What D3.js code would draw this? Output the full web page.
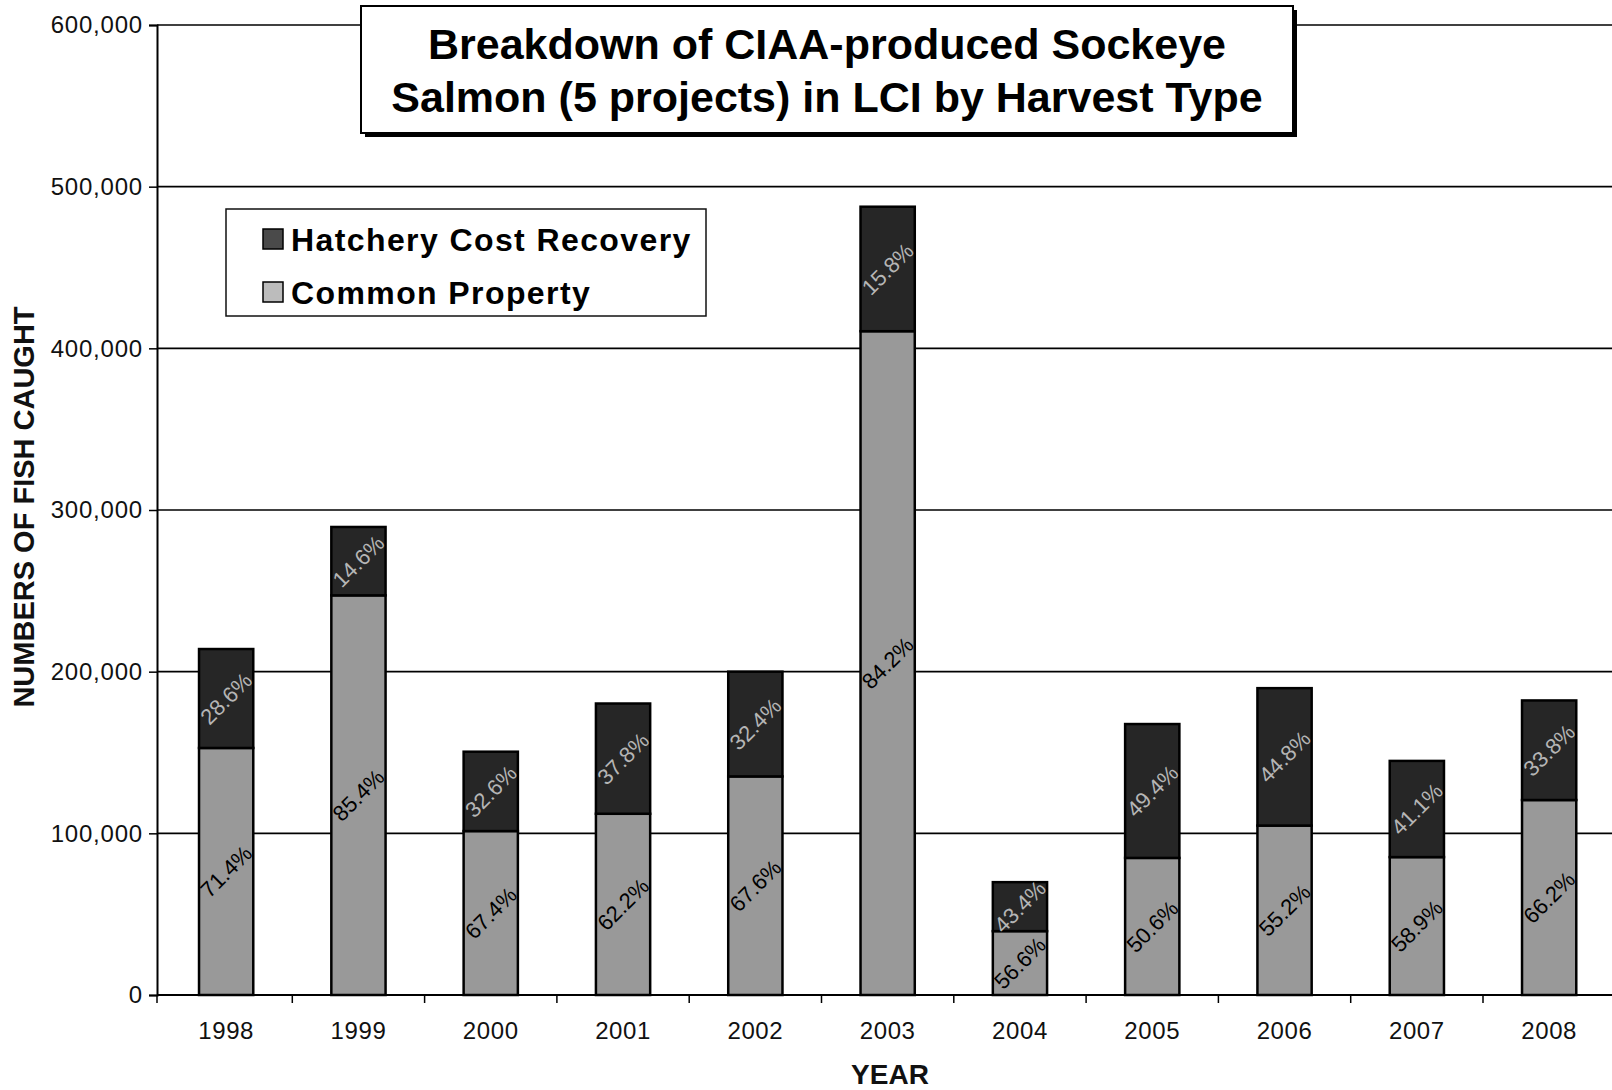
<!DOCTYPE html>
<html>
<head>
<meta charset="utf-8">
<script src="https://cdn.jsdelivr.net/npm/d3@7"></script>
<style>
  html, body { margin: 0; padding: 0; background: #fff; }
  svg { display: block; font-family: "Liberation Sans", Arial, sans-serif; }
</style>
</head>
<body>
<svg id="chart" width="1612" height="1090"></svg>
<script>
// Harvest of CIAA-produced sockeye (5 projects) in Lower Cook Inlet
const years = ["1998", "1999", "2000", "2001", "2002", "2003", "2004", "2005", "2006", "2007", "2008"];
const commonProperty = [152800, 247200, 101400, 112100, 135200, 410600, 39500, 84800, 104800, 85300, 120600];
const hatcheryCostRecovery = [61200, 42300, 49100, 68200, 64800, 77000, 30300, 82800, 85000, 59500, 61600];
const yTicks = [0, 100000, 200000, 300000, 400000, 500000, 600000];
const seriesNames = ["Hatchery Cost Recovery", "Common Property"];
const titleLines = ["Breakdown of CIAA-produced Sockeye", "Salmon (5 projects) in LCI by Harvest Type"];

const W = 1612, H = 1090;
const plot = { left: 157, right: 1612.3, top: 25, bottom: 995 };
const colors = { hatch: "#262626", common: "#999999" };

const svg = d3.select("#chart");

const rows = years.map((y, i) => ({
  year: y,
  common: commonProperty[i],
  hatch: hatcheryCostRecovery[i],
  total: commonProperty[i] + hatcheryCostRecovery[i]
}));

const x = d3.scaleBand()
  .domain(years)
  .range([plot.left + 3, plot.right + 3])
  .paddingInner(0.59)
  .paddingOuter(0.295);

const y = d3.scaleLinear()
  .domain([0, 600000])
  .range([plot.bottom, plot.top]);

const pct = d3.format(".1%");

// gridlines
svg.append("g")
  .selectAll("line")
  .data(yTicks.filter(t => t > 0))
  .join("line")
  .attr("x1", plot.left).attr("x2", W)
  .attr("y1", d => y(d)).attr("y2", d => y(d))
  .attr("stroke", "#000").attr("stroke-width", 1.6);

// y axis
const yAxis = d3.axisLeft(y)
  .tickValues(yTicks)
  .tickFormat(d3.format(","))
  .tickSize(8)
  .tickPadding(6);
const gy = svg.append("g")
  .attr("transform", `translate(${plot.left},0)`)
  .call(yAxis);
gy.select(".domain").attr("stroke", "#000").attr("stroke-width", 2);
gy.selectAll(".tick line").attr("stroke", "#000").attr("stroke-width", 1.5);
gy.selectAll(".tick text")
  .attr("font-size", 24)
  .attr("letter-spacing", 0.8)
  .attr("fill", "#111")
  .style("font-family", "'Liberation Sans', Arial, sans-serif");

// x axis: ticks sit on category boundaries
const step = x.step();
const boundaries = d3.range(years.length + 1)
  .map(i => i === 0 ? plot.left : x.range()[0] + i * step);
svg.append("line")
  .attr("x1", plot.left).attr("x2", W)
  .attr("y1", plot.bottom).attr("y2", plot.bottom)
  .attr("stroke", "#000").attr("stroke-width", 2);
svg.append("g")
  .selectAll("line")
  .data(boundaries)
  .join("line")
  .attr("x1", d => d).attr("x2", d => d)
  .attr("y1", plot.bottom).attr("y2", plot.bottom + 8)
  .attr("stroke", "#000").attr("stroke-width", 1.5);

svg.append("g")
  .selectAll("text")
  .data(years)
  .join("text")
  .attr("x", d => x(d) + x.bandwidth() / 2)
  .attr("y", 1039)
  .attr("text-anchor", "middle")
  .attr("font-size", 24)
  .attr("letter-spacing", 0.6)
  .attr("fill", "#111")
  .text(d => d);

// stacked bars
const bars = svg.append("g").selectAll("g").data(rows).join("g");

bars.append("rect")
  .attr("x", d => x(d.year))
  .attr("width", x.bandwidth())
  .attr("y", d => y(d.common))
  .attr("height", d => y(0) - y(d.common))
  .attr("fill", colors.common)
  .attr("stroke", "#000").attr("stroke-width", 2.5);

bars.append("rect")
  .attr("x", d => x(d.year))
  .attr("width", x.bandwidth())
  .attr("y", d => y(d.total))
  .attr("height", d => y(d.common) - y(d.total))
  .attr("fill", colors.hatch)
  .attr("stroke", "#000").attr("stroke-width", 2.5);

// percentage labels, rotated inside each segment
bars.append("text")
  .attr("transform", d => {
    const cx = x(d.year) + x.bandwidth() / 2;
    const cy = y(d.common / 2);
    return `translate(${cx},${cy}) rotate(-45)`;
  })
  .attr("text-anchor", "middle")
  .attr("dy", "0.35em")
  .attr("font-size", 22)
  .attr("fill", "#000")
  .text(d => pct(d.common / d.total));

bars.append("text")
  .attr("transform", d => {
    const cx = x(d.year) + x.bandwidth() / 2;
    const cy = y(d.common + d.hatch / 2);
    return `translate(${cx},${cy}) rotate(-45)`;
  })
  .attr("text-anchor", "middle")
  .attr("dy", "0.35em")
  .attr("font-size", 22)
  .attr("fill", "#b5b5b5")
  .text(d => pct(d.hatch / d.total));

// axis titles
svg.append("text")
  .attr("transform", `translate(34,507) rotate(-90)`)
  .attr("text-anchor", "middle")
  .attr("font-size", 29)
  .attr("font-weight", "bold")
  .attr("fill", "#111")
  .text("NUMBERS OF FISH CAUGHT");

svg.append("text")
  .attr("x", 890)
  .attr("y", 1084)
  .attr("text-anchor", "middle")
  .attr("font-size", 28)
  .attr("font-weight", "bold")
  .attr("fill", "#111")
  .text("YEAR");

// title box with drop shadow
const tb = { x: 361, y: 6, w: 932, h: 127 };
svg.append("rect")
  .attr("x", tb.x + 4).attr("y", tb.y + 4)
  .attr("width", tb.w).attr("height", tb.h)
  .attr("fill", "#000");
svg.append("rect")
  .attr("x", tb.x).attr("y", tb.y)
  .attr("width", tb.w).attr("height", tb.h)
  .attr("fill", "#fff")
  .attr("stroke", "#000").attr("stroke-width", 2);
svg.append("g")
  .selectAll("text")
  .data(titleLines)
  .join("text")
  .attr("x", tb.x + tb.w / 2)
  .attr("y", (d, i) => 59 + i * 53)
  .attr("text-anchor", "middle")
  .attr("font-size", 43)
  .attr("font-weight", "bold")
  .attr("fill", "#000")
  .text(d => d);

// legend
const lg = { x: 226, y: 209, w: 480, h: 107 };
svg.append("rect")
  .attr("x", lg.x).attr("y", lg.y)
  .attr("width", lg.w).attr("height", lg.h)
  .attr("fill", "#fff")
  .attr("stroke", "#111").attr("stroke-width", 1.5);
const legendFill = ["#4a4a4a", "#bcbcbc"];
const items = svg.append("g")
  .selectAll("g")
  .data(seriesNames)
  .join("g")
  .attr("transform", (d, i) => `translate(0,${i * 53})`);
items.append("rect")
  .attr("x", 263).attr("y", 229)
  .attr("width", 20).attr("height", 20)
  .attr("fill", (d, i) => legendFill[i])
  .attr("stroke", "#000").attr("stroke-width", 1.5);
items.append("text")
  .attr("x", 291).attr("y", 251)
  .attr("font-size", 32)
  .attr("font-weight", "bold")
  .attr("letter-spacing", 1.4)
  .attr("fill", "#000")
  .text(d => d);
</script>
</body>
</html>
